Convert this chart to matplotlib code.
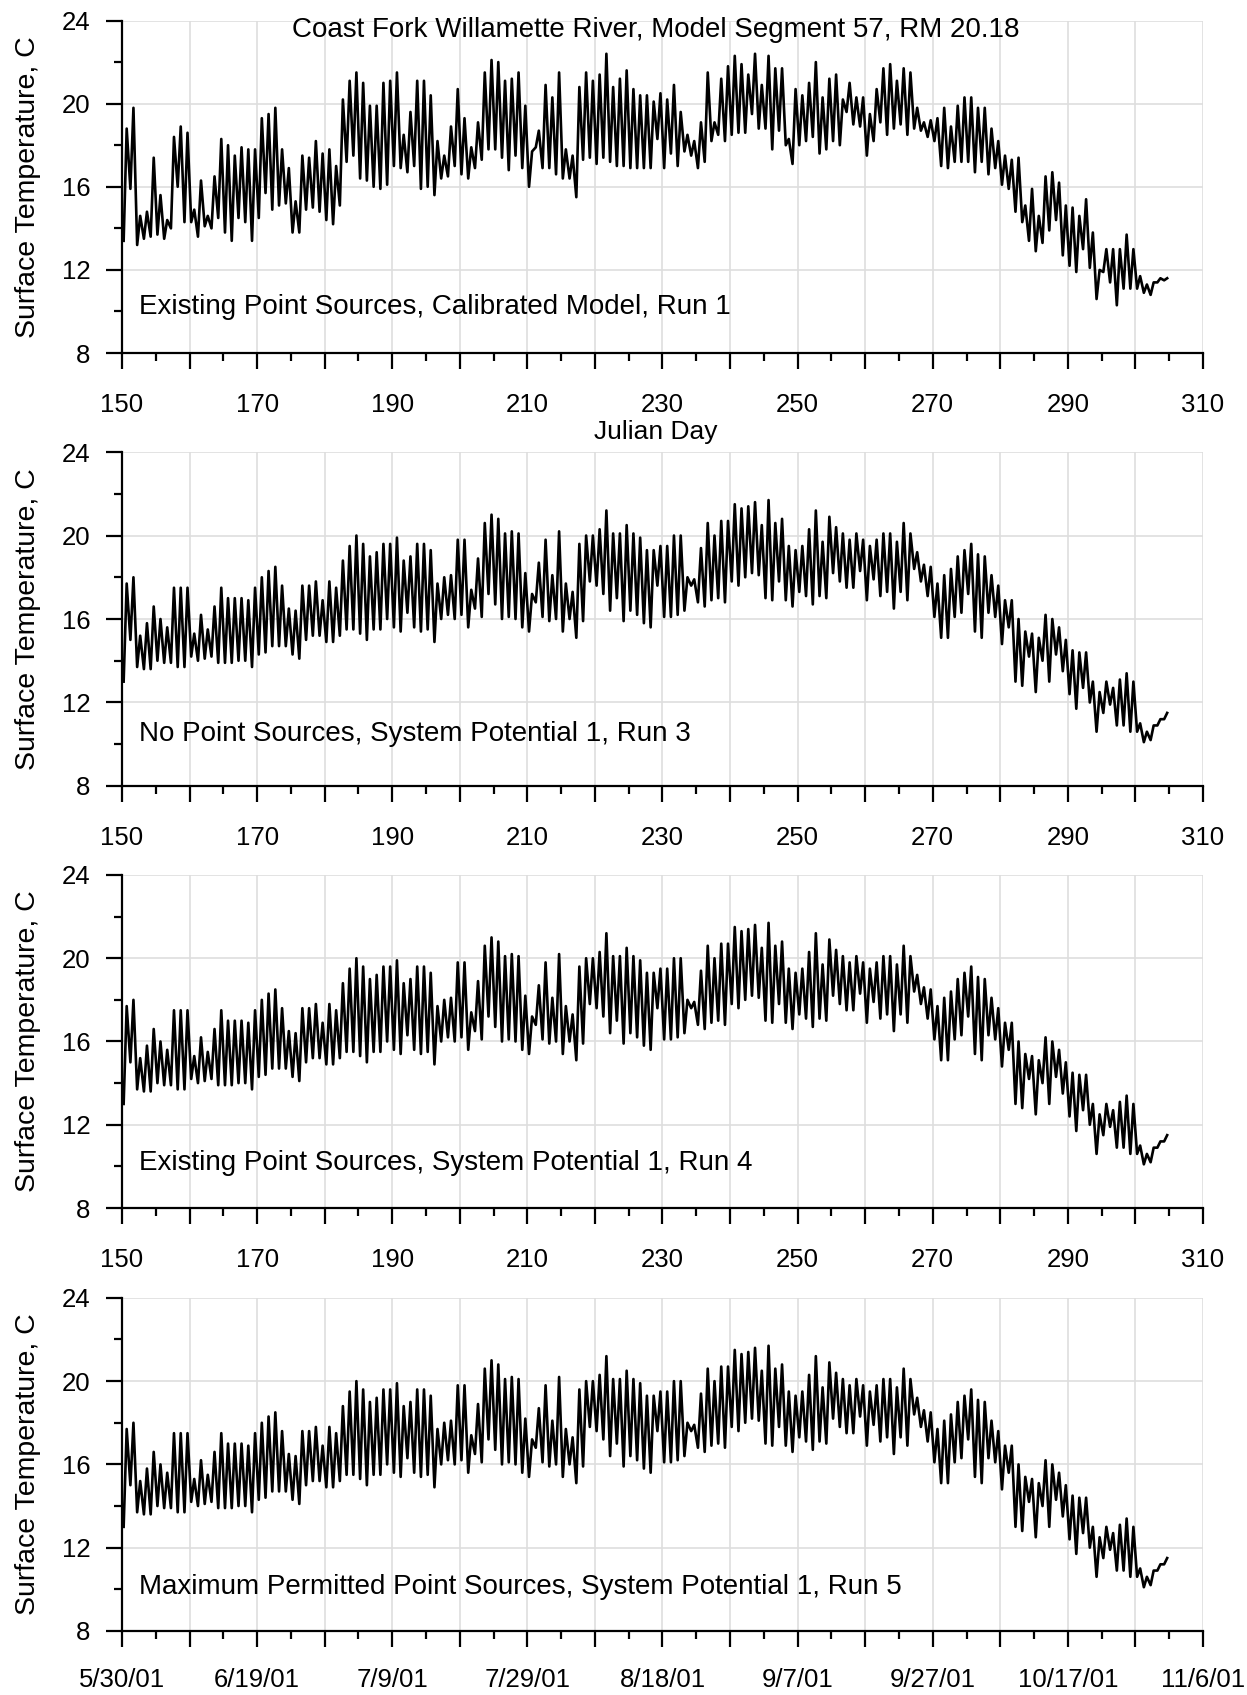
import matplotlib
matplotlib.use("agg")
import matplotlib.pyplot as plt
from matplotlib.ticker import FixedLocator, FixedFormatter

plt.rcParams["font.family"] = ["Liberation Sans", "DejaVu Sans"]

# daily values, julian day 150..304
days = list(range(150, 305))

run1_high = [
    18.8, 19.8, 14.6, 14.8, 17.4, 15.6, 14.4, 18.4, 18.9, 18.6,
    14.9, 16.3, 14.6, 16.5, 18.3, 18.0, 17.5, 17.9, 17.8, 17.8,
    19.3, 19.5, 19.8, 17.8, 16.9, 15.3, 17.5, 17.4, 18.2, 17.6,
    17.8, 17.0, 20.2, 21.1, 21.5, 21.0, 19.9, 19.9, 21.0, 21.1,
    21.5, 18.5, 19.6, 21.1, 21.1, 20.4, 18.2, 17.5, 18.9, 20.7,
    19.3, 17.9, 19.1, 21.5, 22.1, 22.0, 21.1, 21.2, 21.5, 19.9,
    17.7, 18.7, 20.9, 20.3, 21.5, 17.8, 17.5, 20.8, 21.5, 21.1,
    21.4, 22.4, 20.8, 21.2, 21.6, 20.7, 20.4, 20.4, 20.1, 20.5,
    20.2, 20.9, 19.6, 18.5, 18.2, 19.1, 21.5, 19.1, 21.2, 21.8,
    22.3, 21.9, 21.4, 22.4, 20.9, 22.3, 21.7, 21.7, 18.3, 20.7,
    20.4, 21.0, 22.0, 20.3, 21.2, 21.4, 20.2, 21.0, 20.3, 20.3,
    19.5, 20.7, 21.7, 21.9, 21.1, 21.7, 21.5, 19.8, 19.1, 19.2,
    19.3, 19.8, 18.9, 19.9, 20.3, 20.3, 19.8, 19.8, 18.8, 18.2,
    17.5, 17.3, 17.4, 15.1, 15.9, 14.6, 16.5, 16.7, 16.2, 15.1,
    15.0, 14.6, 15.4, 13.8, 12.0, 13.0, 13.0, 13.0, 13.7, 13.0,
    11.7, 11.3, 11.4, 11.6, 11.6,
]
run1_low = [
    13.4, 15.9, 13.2, 13.5, 13.6, 13.7, 13.5, 14.0, 16.0, 14.3,
    14.3, 13.6, 14.1, 14.0, 14.5, 13.8, 13.4, 14.5, 14.3, 13.4,
    14.5, 15.7, 14.9, 15.1, 15.2, 13.8, 13.8, 14.9, 15.0, 14.8,
    14.4, 14.2, 15.1, 17.2, 17.5, 16.4, 16.3, 16.0, 15.9, 16.1,
    17.0, 16.9, 16.7, 17.0, 15.9, 16.0, 15.6, 16.4, 16.5, 17.0,
    16.6, 16.4, 16.9, 17.3, 17.8, 17.8, 17.4, 16.8, 17.5, 16.9,
    16.0, 17.9, 16.9, 16.9, 16.6, 16.4, 16.4, 15.5, 17.3, 17.4,
    17.1, 17.4, 17.2, 17.0, 17.0, 16.9, 16.9, 16.9, 16.9, 18.3,
    16.9, 17.6, 17.0, 17.7, 17.5, 16.9, 17.2, 18.2, 18.5, 18.2,
    18.5, 18.6, 18.6, 19.5, 18.8, 18.8, 17.8, 18.7, 18.0, 17.1,
    18.0, 18.2, 18.4, 17.6, 17.8, 18.2, 18.0, 19.6, 19.0, 18.9,
    17.5, 18.2, 19.1, 18.5, 18.8, 19.0, 18.5, 18.8, 18.7, 18.4,
    18.2, 17.0, 16.9, 17.2, 17.2, 17.2, 16.7, 17.2, 16.6, 16.9,
    16.1, 15.9, 14.8, 14.3, 13.4, 12.9, 13.3, 13.9, 14.4, 12.7,
    12.2, 11.9, 13.0, 12.1, 10.6, 11.9, 11.4, 10.3, 11.1, 11.1,
    11.1, 10.9, 10.8, 11.4, 11.5,
]

run3_high = [
    17.7, 18.0, 15.2, 15.8, 16.6, 16.0, 15.6, 17.5, 17.5, 17.5,
    15.3, 16.2, 15.5, 16.6, 17.5, 17.0, 17.0, 17.0, 16.9, 17.5,
    18.0, 18.3, 18.5, 17.6, 16.5, 16.4, 17.6, 17.6, 17.8, 16.9,
    17.8, 17.5, 18.8, 19.5, 20.0, 19.6, 19.0, 19.2, 19.6, 19.6,
    19.9, 18.8, 19.0, 19.6, 19.6, 19.3, 17.7, 18.0, 18.1, 19.8,
    19.8, 17.4, 18.9, 20.6, 21.0, 20.8, 20.1, 20.2, 20.1, 18.2,
    17.2, 18.7, 19.8, 18.1, 20.2, 17.7, 17.3, 19.6, 20.0, 20.0,
    20.3, 21.2, 20.1, 20.1, 20.5, 20.1, 19.9, 19.3, 19.3, 19.5,
    19.5, 20.0, 20.0, 18.0, 17.9, 19.4, 20.6, 20.0, 20.7, 20.7,
    21.5, 21.3, 21.4, 21.6, 20.5, 21.7, 20.6, 20.8, 19.5, 19.3,
    19.5, 20.3, 21.2, 19.7, 20.9, 20.4, 20.1, 19.8, 20.1, 19.8,
    19.5, 19.8, 20.1, 20.1, 19.7, 20.6, 20.1, 19.2, 18.6, 18.5,
    17.7, 18.1, 18.4, 19.0, 19.3, 19.6, 19.1, 19.0, 18.1, 17.6,
    16.9, 16.9, 16.0, 15.4, 15.3, 15.1, 16.2, 16.0, 15.6, 15.0,
    14.5, 14.4, 14.4, 13.0, 12.5, 13.0, 12.7, 13.1, 13.4, 13.0,
    11.0, 10.6, 10.9, 11.2, 11.5,
]
run3_low = [
    13.0, 15.0, 13.7, 13.6, 13.6, 14.0, 13.9, 13.9, 13.7, 13.7,
    14.2, 14.0, 14.1, 14.2, 13.9, 13.9, 13.9, 14.0, 14.0, 13.7,
    14.3, 14.4, 14.7, 14.7, 14.7, 14.3, 14.1, 15.0, 15.2, 15.2,
    14.9, 14.9, 15.2, 15.5, 15.5, 15.3, 15.0, 15.5, 15.5, 16.0,
    15.6, 15.4, 16.3, 15.6, 15.4, 15.5, 14.9, 16.0, 16.2, 16.0,
    16.2, 15.6, 16.5, 16.1, 17.2, 16.7, 16.0, 16.1, 16.0, 15.6,
    15.4, 16.8, 16.1, 15.9, 16.0, 15.4, 16.0, 15.1, 15.9, 17.8,
    17.6, 17.2, 16.4, 17.0, 15.9, 16.4, 16.2, 15.8, 15.6, 17.6,
    16.1, 16.1, 16.2, 16.4, 17.6, 16.8, 16.6, 16.9, 17.0, 16.8,
    17.8, 17.6, 18.0, 18.2, 18.1, 17.0, 16.9, 17.8, 16.9, 16.6,
    17.3, 17.1, 16.7, 17.1, 17.0, 18.2, 17.8, 17.5, 17.5, 18.3,
    16.9, 17.9, 17.1, 17.3, 16.5, 17.3, 16.9, 18.4, 17.8, 17.1,
    16.1, 15.1, 15.1, 16.1, 16.3, 17.2, 15.4, 15.1, 16.3, 16.1,
    14.8, 15.6, 13.0, 12.8, 14.2, 12.5, 14.0, 13.0, 14.3, 13.5,
    12.4, 11.7, 12.7, 12.0, 10.6, 11.5, 11.9, 10.9, 10.9, 10.6,
    10.6, 10.1, 10.2, 10.9, 11.2,
]

# runs 4 and 5 are indistinguishable from run 3 at this scale
run4_high, run4_low = run3_high, run3_low
run5_high, run5_low = run3_high, run3_low

panel_notes = [
    "Existing Point Sources, Calibrated Model, Run 1",
    "No Point Sources, System Potential 1, Run 3",
    "Existing Point Sources, System Potential 1, Run 4",
    "Maximum Permitted Point Sources, System Potential 1, Run 5",
]
title = "Coast Fork Willamette River, Model Segment 57, RM 20.18"

x_major = list(range(150, 311, 10))
x_minor = list(range(155, 310, 10))
julian_labels = ["150", "", "170", "", "190", "", "210", "", "230", "",
                 "250", "", "270", "", "290", "", "310"]
date_labels = ["5/30/01", "", "6/19/01", "", "7/9/01", "", "7/29/01", "",
               "8/18/01", "", "9/7/01", "", "9/27/01", "", "10/17/01", "",
               "11/6/01"]
y_major = [8, 12, 16, 20, 24]
y_minor = [10, 14, 18, 22]


def daily_trace(high, low):
    x, y = [], []
    for day, lo, hi in zip(days, low, high):
        x += [day + 0.25, day + 0.7]
        y += [lo, hi]
    return x, y


def style_axis(ax, labels):
    for side in ("top", "right"):
        ax.spines[side].set_visible(False)
    for side in ("left", "bottom"):
        ax.spines[side].set_linewidth(1.6)
    ax.set_xlim(150, 310)
    ax.set_ylim(8, 24)
    ax.xaxis.set_major_locator(FixedLocator(x_major))
    ax.xaxis.set_major_formatter(FixedFormatter(labels))
    ax.xaxis.set_minor_locator(FixedLocator(x_minor))
    ax.yaxis.set_major_locator(FixedLocator(y_major))
    ax.yaxis.set_minor_locator(FixedLocator(y_minor))
    ax.tick_params(which="major", direction="out", length=11.5, width=1.6,
                   labelsize=18.5)
    ax.tick_params(which="minor", direction="out", length=6, width=1.6)
    ax.tick_params(axis="x", which="major", pad=17)
    ax.tick_params(axis="y", which="major", pad=11)
    ax.grid(True, which="major", color="#dedede", linewidth=1.2)
    ax.set_axisbelow(True)
    ax.set_ylabel("Surface Temperature, C", fontsize=20.5)
    ax.yaxis.set_label_coords(-0.075, 0.5)


fig = plt.figure(figsize=(12.47, 16.95), dpi=100)
positions = [
    [0.0978, 0.7917, 0.8669, 0.1962],
    [0.0978, 0.5363, 0.8669, 0.1970],
    [0.0978, 0.2873, 0.8669, 0.1965],
    [0.0978, 0.0378, 0.8669, 0.1965],
]
series = [
    (run1_high, run1_low),
    (run3_high, run3_low),
    (run4_high, run4_low),
    (run5_high, run5_low),
]
note_y = [0.138, 0.156, 0.135, 0.132]

for i, (pos, (high, low)) in enumerate(zip(positions, series)):
    ax = fig.add_axes(pos)
    labels = date_labels if i == 3 else julian_labels
    style_axis(ax, labels)
    if i == 3:
        ax.tick_params(axis="x", which="major", pad=15)
    x, y = daily_trace(high, low)
    ax.plot(x, y, color="black", linewidth=1.9)
    ax.text(0.0157, note_y[i], panel_notes[i], transform=ax.transAxes,
            ha="left", va="center", fontsize=20)
    if i == 0:
        ax.text(0.494, 0.971, title, transform=ax.transAxes,
                ha="center", va="center", fontsize=20)
        ax.text(0.494, -0.2376, "Julian Day", transform=ax.transAxes,
                ha="center", va="center", fontsize=19)

fig.savefig("out.png", dpi=100)
